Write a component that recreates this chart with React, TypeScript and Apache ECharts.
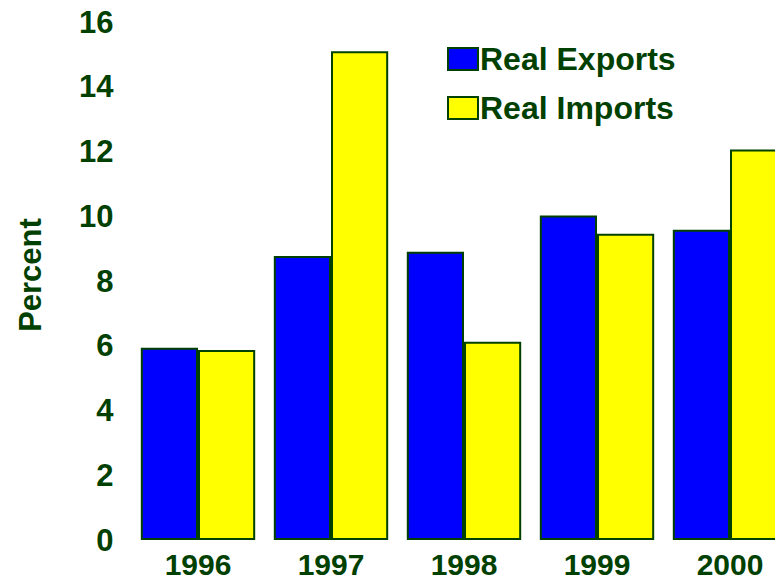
import React, { useEffect, useRef } from "react";
import * as echarts from "echarts";

const categories = ["1996", "1997", "1998", "1999", "2000"];
const realExports = [5.94, 8.77, 8.9, 10.02, 9.58];
const realImports = [5.87, 15.1, 6.12, 9.46, 12.06];
const seriesNames = ["Real Exports", "Real Imports"];

const GREEN = "#004000";
const FONT = "Liberation Sans, Arial, sans-serif";

export default function App() {
  const ref = useRef<HTMLDivElement>(null);
  useEffect(() => {
    if (!ref.current) return;
    const chart = echarts.init(ref.current, undefined, { renderer: "svg" });
    const legendText = {
      color: GREEN,
      fontSize: 32,
      fontWeight: "bold",
      fontFamily: FONT,
      padding: [0, 0, 0, -3],
    };
    chart.setOption({
      animation: false,
      backgroundColor: "#ffffff",
      grid: {
        left: 131.5,
        width: 665,
        top: 22,
        bottom: 42,
        containLabel: false,
        outerBoundsMode: "none",
      },
      legend: [
        {
          orient: "vertical",
          left: 447,
          top: 43,
          padding: 0,
          itemWidth: 30,
          itemHeight: 22,
          icon: "rect",
          textStyle: legendText,
          data: [seriesNames[0]],
        },
        {
          orient: "vertical",
          left: 447,
          top: 92,
          padding: 0,
          itemWidth: 30,
          itemHeight: 22,
          icon: "rect",
          textStyle: legendText,
          data: [seriesNames[1]],
        },
      ],
      xAxis: {
        type: "category",
        data: categories,
        axisLine: { show: false },
        axisTick: { show: false },
        axisLabel: {
          color: GREEN,
          fontSize: 30,
          fontWeight: "bold",
          fontFamily: FONT,
          margin: 9,
        },
      },
      yAxis: {
        type: "value",
        min: 0,
        max: 16,
        interval: 2,
        axisLine: { show: false },
        axisTick: { show: false },
        splitLine: { show: false },
        axisLabel: {
          color: GREEN,
          fontSize: 31,
          fontWeight: "bold",
          fontFamily: FONT,
          margin: 18,
        },
      },
      graphic: [
        {
          type: "text",
          x: 30,
          y: 275,
          rotation: Math.PI / 2,
          style: {
            text: "Percent",
            fill: GREEN,
            fontSize: 31,
            fontWeight: "bold",
            fontFamily: FONT,
            textAlign: "center",
            textVerticalAlign: "middle",
          },
        },
      ],
      series: [
        {
          name: seriesNames[0],
          type: "bar",
          data: realExports,
          barGap: "0%",
          barCategoryGap: "14%",
          itemStyle: { color: "#0000ff", borderColor: GREEN, borderWidth: 2 },
        },
        {
          name: seriesNames[1],
          type: "bar",
          data: realImports,
          barGap: "0%",
          barCategoryGap: "14%",
          itemStyle: { color: "#ffff00", borderColor: GREEN, borderWidth: 2 },
        },
      ],
    });
    return () => chart.dispose();
  }, []);
  return (
    <div
      ref={ref}
      style={{ position: "fixed", left: 0, top: 0, width: 775, height: 582 }}
    />
  );
}
